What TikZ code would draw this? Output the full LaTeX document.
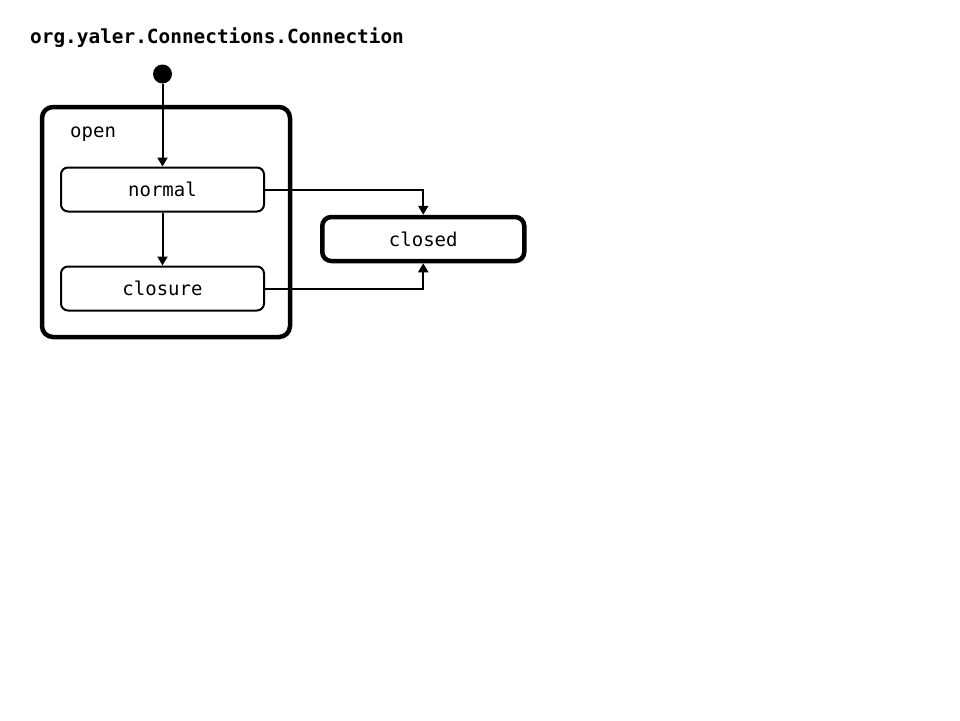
\documentclass[tikz,border=0pt]{standalone}
\usepackage{fontspec}
\setmonofont{DejaVu Sans Mono}
\usetikzlibrary{positioning,arrows.meta}
\tikzset{
  state/.style={draw, line width=2pt, rounded corners=7pt, minimum width=203pt, minimum height=44pt, inner sep=0pt, font=\ttfamily\fontsize{19}{22}\selectfont},
  tstate/.style={state, line width=4.5pt, rounded corners=9pt, minimum width=202pt, minimum height=44pt},
  arr/.style={-{Triangle[length=9pt,width=10pt]}, line width=2pt},
}

\begin{document}
\begin{tikzpicture}[x=1pt, y=-1pt]
  \useasboundingbox (0,0) rectangle (960,720);
  \node[anchor=west, inner sep=0pt, font=\ttfamily\bfseries\fontsize{19.4}{22}\selectfont] (title) at (30,38) {org.yaler.Connections.Connection};
  \node[circle, fill, inner sep=0pt, minimum size=19pt] (start) at (162.5,74) {};
  \node[draw, line width=4.5pt, rounded corners=11pt, minimum width=248pt, minimum height=230pt] (open) at (166,222) {};
  \node[anchor=west, inner sep=0pt, font=\ttfamily\fontsize{19}{22}\selectfont] (openlabel) at (70,134) {open};
  \node[state] (normal) at (162.5,189.5) {normal};
  \node[state, below=53pt of normal] (closure) {closure};
  \node[tstate, right=55pt of normal, yshift=-49.5pt] (closed) {closed};
  \draw[arr] (start) -- (normal);
  \draw[arr] (normal) -- (closure);
  \draw[arr] (normal.east) -| (closed.north);
  \draw[arr] (closure.east) -| (closed.south);
\end{tikzpicture}
\end{document}
